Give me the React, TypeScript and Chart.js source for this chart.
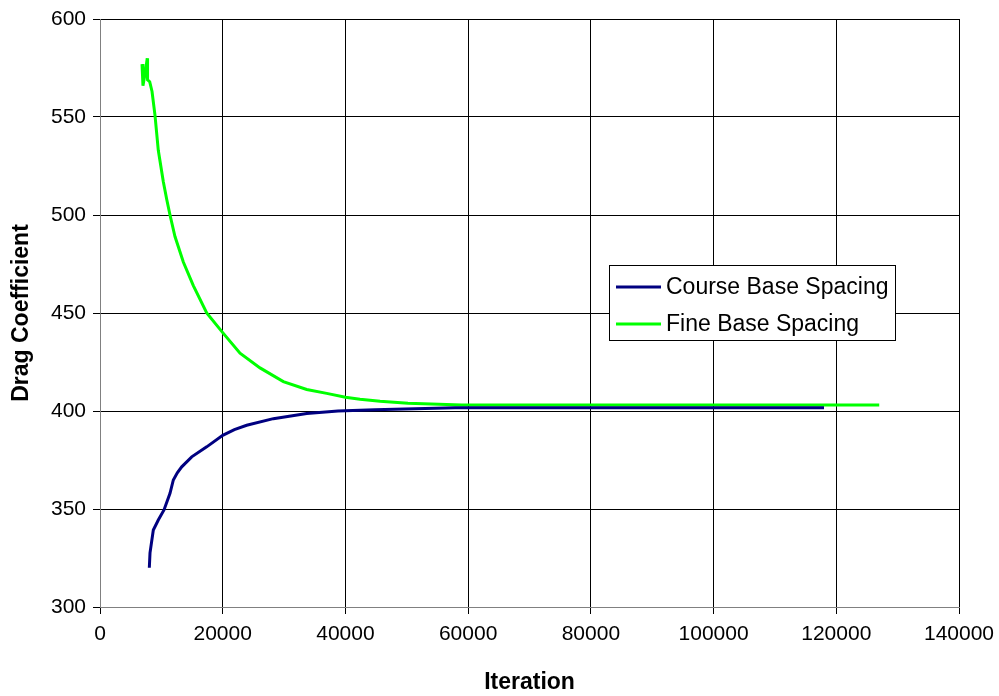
import React, { useEffect, useRef } from "react";
import { Chart, registerables } from "chart.js";

Chart.register(...registerables);

// Convergence history of the drag coefficient for two base-spacing meshes
const courseIter = [8040, 8150, 8690, 9500, 10430, 11410, 11950, 12600, 13320, 14950, 17390, 20000, 21900, 23910, 28250, 33690, 38790, 44800, 57870, 118000];
const courseCd = [320, 327.6, 339.3, 344.4, 349.5, 358, 364.8, 368.5, 371.5, 376.6, 381.7, 387.6, 390.5, 392.7, 396.1, 398.7, 400, 400.7, 401.7, 401.7];

const fineIter = [6850, 7000, 7400, 7700, 7750, 8100, 8480, 8960, 9500, 10320, 10870, 11410, 12220, 13580, 15210, 17390, 20000, 22820, 26080, 29880, 33690, 36950, 40000, 42380, 45640, 50200, 58950, 127000];
const fineCd = [577, 566, 573, 580, 569, 568, 563, 551, 533, 517, 508, 500, 489, 476, 464, 450, 440, 429.5, 422, 415, 411, 409, 407, 406, 405, 404, 403, 403];

const seriesLabels = ["Course Base Spacing", "Fine Base Spacing"];
const seriesColors = ["#000080", "#00FF00"];

const xTitle = "Iteration";
const yTitle = "Drag Coefficient";

const FONT = "'Liberation Sans', Arial, sans-serif";

const toPoints = (xs: number[], ys: number[]) => xs.map((x, i) => ({ x, y: ys[i] }));

// Boxed legend drawn inside the plot area
const insideLegend = {
  id: "insideLegend",
  afterDraw(chart: any) {
    const { ctx } = chart;
    const left = 609.5;
    const top = 265.5;
    const w = 286;
    const h = 75;
    ctx.save();
    ctx.fillStyle = "#ffffff";
    ctx.fillRect(left, top, w, h);
    ctx.strokeStyle = "#000000";
    ctx.lineWidth = 1;
    ctx.strokeRect(left, top, w, h);
    ctx.font = `23px ${FONT}`;
    ctx.textBaseline = "middle";
    ctx.textAlign = "left";
    chart.data.datasets.forEach((ds: any, i: number) => {
      const y = 287 + i * 37;
      ctx.strokeStyle = ds.borderColor;
      ctx.lineWidth = 3;
      ctx.beginPath();
      ctx.moveTo(616, y);
      ctx.lineTo(661, y);
      ctx.stroke();
      ctx.fillStyle = "#000000";
      ctx.fillText(ds.label, 666, y + 1);
    });
    ctx.restore();
  },
};

export default function App() {
  const canvasRef = useRef<HTMLCanvasElement | null>(null);

  useEffect(() => {
    const canvas = canvasRef.current;
    if (!canvas) return;
    const chart = new Chart(canvas, {
      type: "line",
      data: {
        datasets: [
          {
            label: seriesLabels[0],
            data: toPoints(courseIter, courseCd),
            borderColor: seriesColors[0],
            backgroundColor: seriesColors[0],
            borderWidth: 3,
            pointRadius: 0,
            tension: 0,
          },
          {
            label: seriesLabels[1],
            data: toPoints(fineIter, fineCd),
            borderColor: seriesColors[1],
            backgroundColor: seriesColors[1],
            borderWidth: 3,
            pointRadius: 0,
            tension: 0,
          },
        ],
      },
      options: {
        responsive: false,
        animation: false,
        devicePixelRatio: 1,
        layout: { padding: { top: 19, right: 40, left: 0, bottom: 0 } },
        plugins: {
          legend: { display: false },
          tooltip: { enabled: false },
        },
        scales: {
          x: {
            type: "linear",
            min: 0,
            max: 140000,
            afterFit: (scale: any) => {
              scale.height = 89;
              scale.paddingLeft = 0;
              scale.paddingRight = 0;
            },
            ticks: {
              stepSize: 20000,
              color: "#000",
              padding: 8,
              maxRotation: 0,
              font: { family: FONT, size: 21 },
              callback: (v: any) => String(v),
            },
            grid: { color: "#000", lineWidth: 1, tickLength: 7 },
            border: { color: "#808080", width: 1 },
            title: {
              display: true,
              text: xTitle,
              color: "#000",
              font: { family: FONT, size: 23, weight: "bold" },
              padding: { top: 0, bottom: 0 },
            },
          },
          y: {
            type: "linear",
            min: 300,
            max: 600,
            afterFit: (scale: any) => {
              scale.width = 100;
              scale.paddingTop = 0;
              scale.paddingBottom = 0;
            },
            ticks: {
              stepSize: 50,
              color: "#000",
              padding: 7,
              font: { family: FONT, size: 21 },
              callback: (v: any) => String(v),
            },
            grid: { color: "#000", lineWidth: 1, tickLength: 7 },
            border: { color: "#808080", width: 1 },
            title: {
              display: true,
              text: yTitle,
              color: "#000",
              font: { family: FONT, size: 23, weight: "bold" },
              padding: { top: 8, bottom: 0 },
            },
          },
        },
      },
      plugins: [insideLegend],
    });
    return () => chart.destroy();
  }, []);

  return (
    <div style={{ position: "absolute", left: 0, top: 0, width: 999, height: 696, background: "#fff" }}>
      <canvas ref={canvasRef} width={999} height={696} style={{ display: "block", width: 999, height: 696 }} />
    </div>
  );
}
